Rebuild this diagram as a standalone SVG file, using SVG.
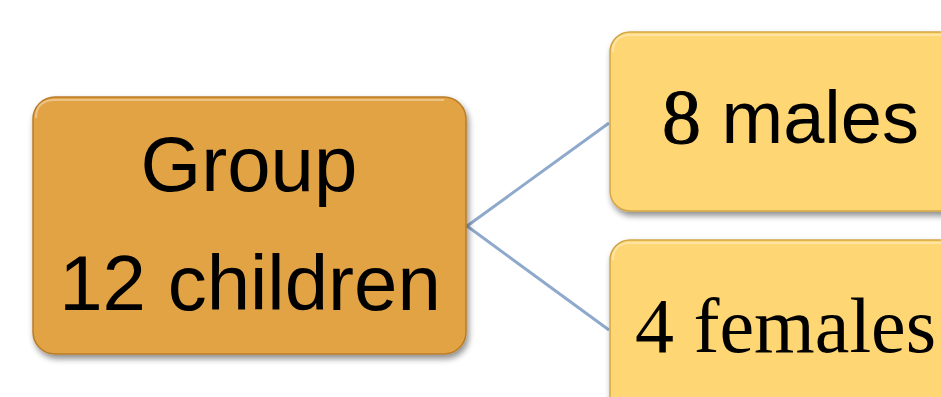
<svg xmlns="http://www.w3.org/2000/svg" width="941" height="397" viewBox="0 0 941 397">
  <defs>
    <filter id="shadow" x="-10%" y="-10%" width="130%" height="130%">
      <feGaussianBlur in="SourceAlpha" stdDeviation="3"/>
      <feOffset dx="2" dy="4" result="b"/>
      <feComponentTransfer><feFuncA type="linear" slope="0.45"/></feComponentTransfer>
      <feMerge><feMergeNode/><feMergeNode in="SourceGraphic"/></feMerge>
    </filter>
  </defs>
  <style>
    .root { fill: #E2A344; stroke: #B97C28; stroke-width: 1.5; }
    .leaf { fill: #FED673; stroke: #D2A646; stroke-width: 1.5; }
    .hl { fill: none; stroke: #FFFFFF; stroke-opacity: 0.35; stroke-width: 2; }
    .sans { font-family: "Liberation Sans", Arial, sans-serif; fill: #000; }
    .serif { font-family: "Liberation Serif", "Times New Roman", serif; fill: #000; }
    .link { fill: none; stroke: #8EA9CB; stroke-width: 3; }
  </style>
  <rect width="941" height="397" fill="#FFFFFF"/>

  <g id="connectors">
    <polyline class="link" points="609,123 467,226 609,330"/>
  </g>

  <g id="node-group">
    <rect class="root" x="33" y="97" width="433" height="257" rx="22" filter="url(#shadow)"/>
    <path class="hl" d="M36,118 Q36,100 55,100 L444,100"/>
    <text class="sans" x="249" y="191" font-size="78" text-anchor="middle">Group</text>
    <text class="sans" x="250" y="310" font-size="78" text-anchor="middle">12 children</text>
  </g>

  <g id="node-males">
    <rect class="leaf" x="610" y="32" width="360" height="179" rx="20" filter="url(#shadow)"/>
    <path class="hl" d="M613,52 Q613,35 630,35 L941,35"/>
    <text x="662" y="143" font-size="74"><tspan class="serif" font-size="78" stroke="#000" stroke-width="1">8</tspan><tspan class="sans"> males</tspan></text>
  </g>

  <g id="node-females">
    <rect class="leaf" x="610" y="240" width="360" height="190" rx="20" filter="url(#shadow)"/>
    <path class="hl" d="M613,260 Q613,243 630,243 L941,243"/>
    <text class="serif" x="635" y="352" font-size="78">4 females</text>
  </g>
</svg>
